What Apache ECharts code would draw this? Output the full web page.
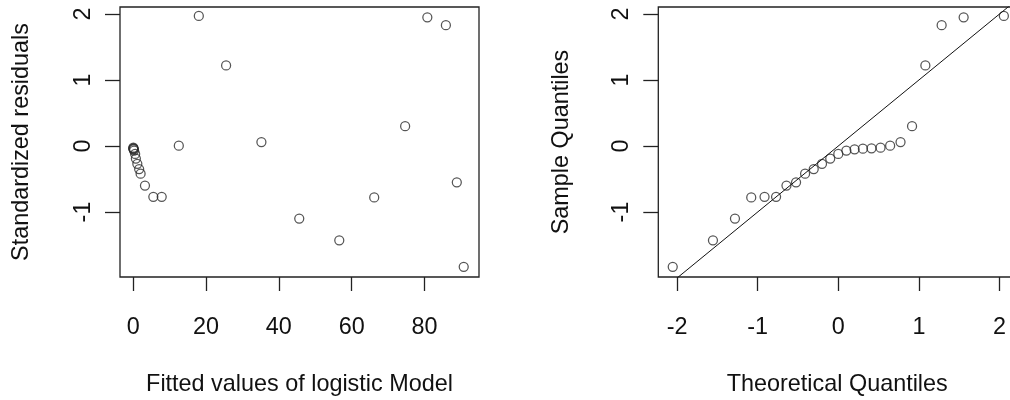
<!DOCTYPE html>
<html>
<head>
<meta charset="utf-8">
<script src="https://cdn.jsdelivr.net/npm/echarts@6/dist/echarts.min.js"></script>
<style>
html,body{margin:0;padding:0;background:#fff;}
#chart{width:1010px;height:400px;}
</style>
</head>
<body>
<div id="chart"></div>
<script>
// Left panel: fitted values vs standardized residuals
const fittedValues = [0.0, 0.0, 0.05, 0.1, 0.2, 0.5, 0.7, 1.1, 1.6, 2.0, 3.2, 5.5, 7.8, 12.5, 18.0, 25.5, 35.2, 45.6, 56.6, 66.2, 74.7, 80.8, 85.9, 88.9, 90.8];
const residuals    = [-0.035, -0.025, -0.04, -0.05, -0.07, -0.12, -0.19, -0.27, -0.35, -0.42, -0.60, -0.77, -0.77, 0.005, 1.97, 1.22, 0.06, -1.10, -1.43, -0.78, 0.30, 1.95, 1.83, -0.55, -1.83];

// Right panel: normal Q-Q plot (n = 25)
const theoreticalQuantiles = [-2.054, -1.555, -1.282, -1.080, -0.915, -0.772, -0.643, -0.524, -0.412, -0.305, -0.202, -0.100, 0.000, 0.100, 0.202, 0.305, 0.412, 0.524, 0.643, 0.772, 0.915, 1.080, 1.282, 1.555, 2.054];
const sampleQuantiles = residuals.slice().sort((a, b) => a - b);
const refLine = [[-2.5, -2.5], [2.5, 2.5]]; // y = x reference line

// Tick values
const leftXTicks  = [0, 20, 40, 60, 80];
const yTicks      = [-1, 0, 1, 2];
const rightXTicks = [-2, -1, 0, 1, 2];

const axisColor = '#222';
const textColor = '#111';
const fontFamily = 'Liberation Sans, Arial, sans-serif';
const fs = 23.4;

function xAxisCfg(gridIndex, min, max, ticks, name) {
  return {
    type: 'value', gridIndex, min, max, name,
    nameLocation: 'middle', nameGap: 96,
    nameTextStyle: {color: textColor, fontSize: fs, fontFamily},
    splitLine: {show: false},
    axisLine: {show: false, onZero: false},
    axisTick: {show: true, inside: false, length: 14, customValues: ticks,
               lineStyle: {color: axisColor, width: 1.3}},
    axisLabel: {show: true, customValues: ticks, margin: 39, color: textColor,
                fontSize: fs, fontFamily, showMinLabel: true, showMaxLabel: true}
  };
}
function yAxisCfg(gridIndex, name, nameGap) {
  return {
    type: 'value', gridIndex, min: -1.985, max: 2.106, name,
    nameLocation: 'middle', nameGap,
    nameTextStyle: {color: textColor, fontSize: fs, fontFamily},
    splitLine: {show: false},
    axisLine: {show: false, onZero: false},
    axisTick: {show: true, inside: false, length: 15, customValues: yTicks,
               lineStyle: {color: axisColor, width: 1.3}},
    axisLabel: {show: true, customValues: yTicks, rotate: 90, margin: 25,
                color: textColor, fontSize: fs, fontFamily}
  };
}

const pointStyle = {color: 'rgba(0,0,0,0)', borderColor: '#2a2a2a', borderWidth: 1.25};

const chart = echarts.init(document.getElementById('chart'), null, {renderer: 'canvas'});
chart.setOption({
  backgroundColor: '#fff',
  animation: false,
  grid: [
    {left: 120, top: 7, width: 359, height: 270, show: true, borderColor: axisColor, borderWidth: 1.3,
     backgroundColor: 'transparent', containLabel: false, outerBoundsMode: 'none'},
    {left: 658.3, top: 7, width: 357.9, height: 270, show: true, borderColor: axisColor, borderWidth: 1.3,
     backgroundColor: 'transparent', containLabel: false, outerBoundsMode: 'none'}
  ],
  xAxis: [
    xAxisCfg(0, -3.66, 95.0, leftXTicks, 'Fitted values of logistic Model'),
    xAxisCfg(1, -2.233, 2.207, rightXTicks, 'Theoretical Quantiles')
  ],
  yAxis: [
    yAxisCfg(0, 'Standardized residuals', 87),
    yAxisCfg(1, 'Sample Quantiles', 85)
  ],
  series: [
    {
      type: 'scatter', xAxisIndex: 0, yAxisIndex: 0,
      symbol: 'circle', symbolSize: 9,
      itemStyle: pointStyle,
      data: fittedValues.map((f, i) => [f, residuals[i]])
    },
    {
      type: 'scatter', xAxisIndex: 1, yAxisIndex: 1,
      symbol: 'circle', symbolSize: 9,
      itemStyle: pointStyle,
      data: theoreticalQuantiles.map((q, i) => [q, sampleQuantiles[i]])
    },
    {
      type: 'line', xAxisIndex: 1, yAxisIndex: 1,
      showSymbol: false, symbol: 'none', clip: true,
      lineStyle: {color: '#111', width: 1},
      data: refLine
    }
  ]
});
</script>
</body>
</html>
